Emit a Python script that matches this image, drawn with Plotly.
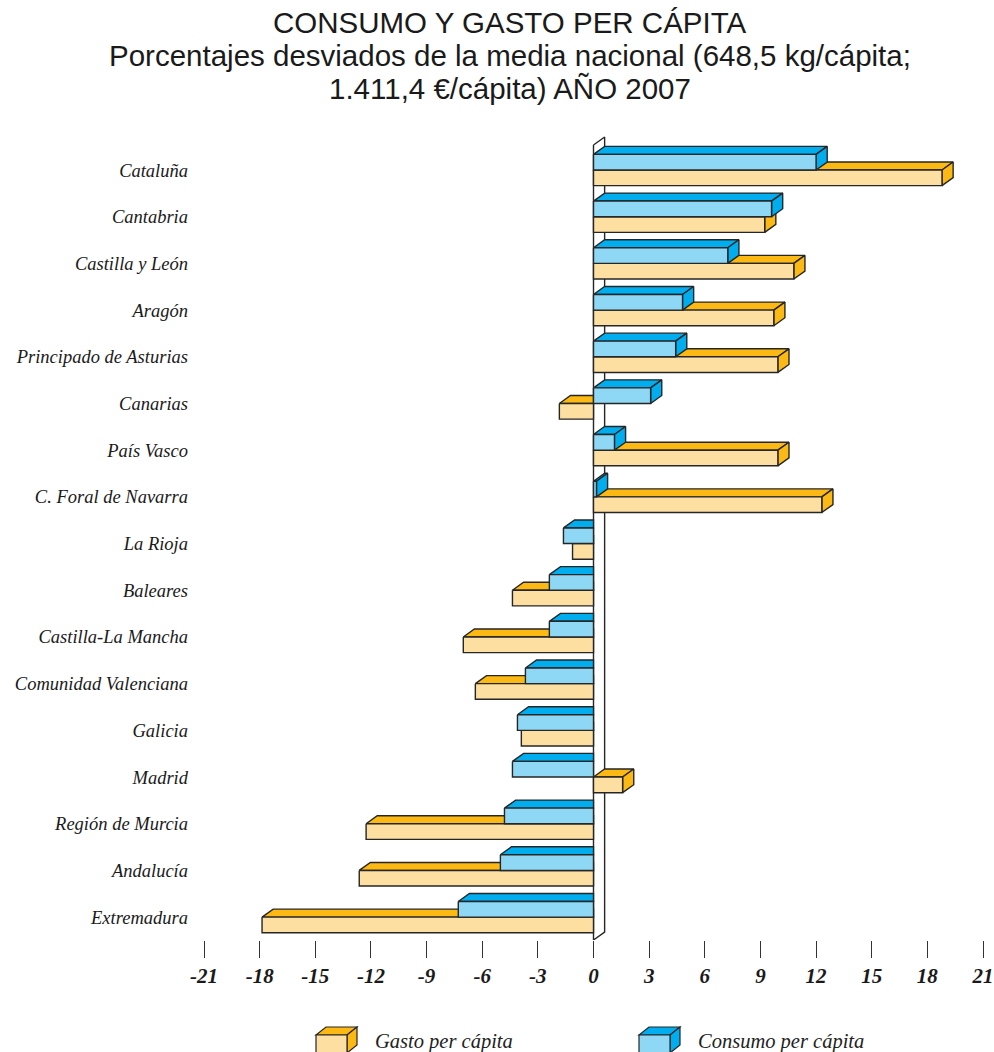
import plotly.graph_objects as go

regions = ["Cataluña", "Cantabria", "Castilla y León", "Aragón", "Principado de Asturias",
           "Canarias", "País Vasco", "C. Foral de Navarra", "La Rioja", "Baleares",
           "Castilla-La Mancha", "Comunidad Valenciana", "Galicia", "Madrid",
           "Región de Murcia", "Andalucía", "Extremadura"]
consumo = [12.0, 9.6, 7.24, 4.8, 4.43, 3.08, 1.13, 0.16, -1.62, -2.38, -2.38, -3.67,
           -4.1, -4.37, -4.8, -5.02, -7.29]
gasto = [18.79, 9.23, 10.8, 9.72, 9.94, -1.84, 9.94, 12.31, -1.13, -4.37, -7.02, -6.37,
         -3.89, 1.57, -12.26, -12.63, -17.87]
x_ticks = list(range(-21, 22, 3))
title_lines = ["CONSUMO Y GASTO PER CÁPITA",
               "Porcentajes desviados de la media nacional (648,5 kg/cápita;",
               "1.411,4 €/cápita) AÑO 2007"]

# 3D styling constants
H = 0.335     # front face height (category units)
DX = 0.6      # depth offset in x (value units)
DY = 0.171    # depth offset in y (category units)
LINE = dict(color="#262626", width=1.4)
BLUE_FRONT, BLUE_DARK = "#8fd8f5", "#00aeef"
ORANGE_FRONT, ORANGE_DARK = "#fddfa2", "#fdb913"

W, Hpx = 994, 1052
L, R, T, B = 204, 11, 130, 112
Y_RANGE = [16.49, -0.857]


def faces(values, offset):
    top_x, top_y, side_x, side_y, fr_x, fr_y = [], [], [], [], [], []
    for i, v in enumerate(values):
        y0 = i + offset
        if v >= 0:
            tx = [0, v, v + DX, DX, 0]
            ty = [y0, y0, y0 - DY, y0 - DY, y0]
            side_x += [v, v + DX, v + DX, v, v, None]
            side_y += [y0, y0 - DY, y0 + H - DY, y0 + H, y0, None]
        else:
            tx = [v, 0, 0, v + DX, v]
            ty = [y0, y0, y0 - DY, y0 - DY, y0]
        top_x += tx + [None]
        top_y += ty + [None]
        lo, hi = min(v, 0), max(v, 0)
        fr_x += [lo, hi, hi, lo, lo, None]
        fr_y += [y0, y0, y0 + H, y0 + H, y0, None]
    return (top_x, top_y), (side_x, side_y), (fr_x, fr_y)


def poly(xy, color, name):
    return go.Scatter(x=xy[0], y=xy[1], mode="lines", fill="toself", fillcolor=color,
                      line=LINE, name=name, showlegend=False, hoverinfo="skip")


fig = go.Figure()

# wall at x = 0
fig.add_trace(go.Scatter(x=[0, DX, DX, 0, 0], y=[-0.536, -0.536 - DY, 16.49 - DY, 16.49, -0.536],
                         mode="lines", fill="toself", fillcolor="white",
                         line=dict(color="#262626", width=1.4), showlegend=False, hoverinfo="skip"))

g_top, g_side, g_front = faces(gasto, 0)
c_top, c_side, c_front = faces(consumo, -H)
fig.add_trace(poly(g_top, ORANGE_DARK, "Gasto per cápita"))
fig.add_trace(poly(g_side, ORANGE_DARK, "Gasto per cápita"))
fig.add_trace(poly(g_front, ORANGE_FRONT, "Gasto per cápita"))
fig.add_trace(poly(c_top, BLUE_DARK, "Consumo per cápita"))
fig.add_trace(poly(c_side, BLUE_DARK, "Consumo per cápita"))
fig.add_trace(poly(c_front, BLUE_FRONT, "Consumo per cápita"))

pw = W - L - R
ph = Hpx - T - B


def px(xp):
    return (xp - L) / pw


def py(yp):
    return (Hpx - B - yp) / ph


shapes = []
annotations = []


def legend_cube(x0, y0, front, dark, label):
    w, h, dx, dy = 31, 18, 10, 8
    shp = dict(type="path", xref="paper", yref="paper", line=dict(color="#262626", width=1.2))
    top = (f"M{px(x0)},{py(y0)} L{px(x0 + dx)},{py(y0 - dy)} L{px(x0 + w + dx)},{py(y0 - dy)} "
           f"L{px(x0 + w)},{py(y0)} Z")
    side = (f"M{px(x0 + w)},{py(y0)} L{px(x0 + w + dx)},{py(y0 - dy)} L{px(x0 + w + dx)},{py(y0 + h - dy)} "
            f"L{px(x0 + w)},{py(y0 + h)} Z")
    frontp = (f"M{px(x0)},{py(y0)} L{px(x0 + w)},{py(y0)} L{px(x0 + w)},{py(y0 + h)} "
              f"L{px(x0)},{py(y0 + h)} Z")
    shapes.append(dict(shp, path=top, fillcolor=dark))
    shapes.append(dict(shp, path=side, fillcolor=dark))
    shapes.append(dict(shp, path=frontp, fillcolor=front))
    annotations.append(dict(x=px(x0 + 57), y=py(y0 + 6), xref="paper", yref="paper",
                            text=label, showarrow=False, xanchor="left", yanchor="middle",
                            font=dict(family="Liberation Serif", size=20.5, style="italic",
                                      color="#222")))


legend_cube(316, 1035, ORANGE_FRONT, ORANGE_DARK, "Gasto per cápita")
legend_cube(639, 1035, BLUE_FRONT, BLUE_DARK, "Consumo per cápita")

for k, line in enumerate(title_lines):
    annotations.append(dict(
        x=px(510), y=py(22 + 33 * k), xref="paper", yref="paper", xanchor="center",
        yanchor="middle", text=line, showarrow=False,
        font=dict(family="Liberation Sans", size=29.5, color="#1a1a1a")))

fig.update_layout(
    width=W, height=Hpx,
    margin=dict(l=L, r=R, t=T, b=B, autoexpand=False),
    paper_bgcolor="white", plot_bgcolor="white",
    shapes=shapes, annotations=annotations,
    showlegend=False,
    xaxis=dict(range=[-21, 21], tickvals=x_ticks, ticktext=[str(t) for t in x_ticks],
               ticks="outside", ticklen=17, tickwidth=1, tickcolor="#333",
               showgrid=False, zeroline=False, showline=False, automargin=False,
               tickfont=dict(family="Liberation Serif", size=21, weight="bold", style="italic",
                             color="#1a1a1a")),
    yaxis=dict(range=Y_RANGE, tickvals=list(range(len(regions))), ticktext=regions,
               ticks="", showgrid=False, zeroline=False, showline=False, automargin=False,
               ticklabelstandoff=15,
               tickfont=dict(family="Liberation Serif", size=18.5, style="italic", color="#1a1a1a")),
)

fig.write_html("out.html")
